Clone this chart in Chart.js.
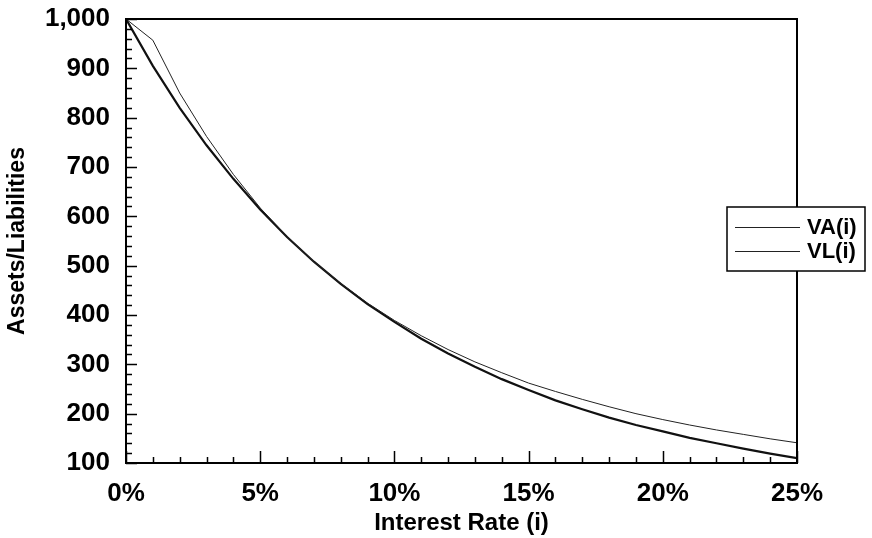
<!DOCTYPE html>
<html>
<head>
<meta charset="utf-8">
<title>Assets vs Liabilities</title>
<script src="https://cdn.jsdelivr.net/npm/chart.js@4.4.1/dist/chart.umd.min.js"></script>
<style>
    html, body { margin: 0; padding: 0; background: #fff; }
    #wrap { position: relative; width: 872px; height: 538px; }
</style>
</head>
<body>
<div id="wrap"><canvas id="chart" width="872" height="538"></canvas></div>
<script>
    // --- Data ---
    const rates = [0, 1, 2, 3, 4, 5, 6, 7, 8, 9, 10, 11, 12, 13, 14, 15, 16, 17, 18, 19, 20, 21, 22, 23, 24, 25];
    const assets = [1000, 957, 850, 762, 685, 617, 559, 508, 464, 424, 389, 358, 330, 305, 283, 262, 245, 229, 214, 200, 188, 177, 167, 158, 149, 141];
    const liabilities = [1000, 905, 820, 744, 676, 614, 558, 508, 463, 422, 386, 352, 322, 295, 270, 248, 227, 209, 192, 177, 164, 151, 140, 129, 119, 110];
    const seriesNames = ['VA(i)', 'VL(i)'];
    const xTickValues = [0, 5, 10, 15, 20, 25];
    const yTickValues = [100, 200, 300, 400, 500, 600, 700, 800, 900, 1000];

    const FONT = "'Liberation Sans', Arial, Helvetica, sans-serif";

    const toPoints = vals => rates.map((r, i) => ({ x: r, y: vals[i] }));

    // frame, inner tick marks (major + minor) and the boxed legend
    const framePlugin = {
        id: 'frameTicks',
        afterDatasetsDraw(chart) {
            const { ctx, chartArea: a, scales } = chart;
            const xs = scales.x, ys = scales.y;
            ctx.save();
            ctx.strokeStyle = '#000';
            ctx.lineWidth = 2;
            ctx.strokeRect(a.left, a.top, a.right - a.left, a.bottom - a.top);

            ctx.lineWidth = 1.5;
            ctx.beginPath();
            for (let v = xs.min; v <= xs.max; v += 1) {
                const px = Math.round(xs.getPixelForValue(v)) + 0.5;
                const len = v % 5 === 0 ? 12 : 6;
                ctx.moveTo(px, a.bottom);
                ctx.lineTo(px, a.bottom - len);
            }
            for (let v = ys.min; v <= ys.max; v += 20) {
                const py = Math.round(ys.getPixelForValue(v)) + 0.5;
                const len = v % 100 === 0 ? 11 : 6;
                ctx.moveTo(a.left, py);
                ctx.lineTo(a.left + len, py);
            }
            ctx.stroke();

            // legend box
            const bx = 727, by = 207, bw = 138, bh = 64;
            ctx.fillStyle = '#fff';
            ctx.fillRect(bx, by, bw, bh);
            ctx.lineWidth = 1.5;
            ctx.strokeRect(bx, by, bw, bh);
            ctx.font = 'bold 22px ' + FONT;
            ctx.textBaseline = 'middle';
            ctx.textAlign = 'left';
            chart.data.datasets.forEach((ds, i) => {
                const ly = by + 20 + i * 24;
                ctx.strokeStyle = '#222';
                ctx.lineWidth = 1;
                ctx.beginPath();
                ctx.moveTo(bx + 8, ly + 0.5);
                ctx.lineTo(bx + 73, ly + 0.5);
                ctx.stroke();
                ctx.fillStyle = '#000';
                ctx.fillText(ds.label, bx + 80, ly + 1);
            });
            ctx.restore();
        }
    };

    new Chart(document.getElementById('chart'), {
        type: 'line',
        data: {
            datasets: [
                {
                    label: seriesNames[0],
                    data: toPoints(assets),
                    borderColor: '#222',
                    borderWidth: 1,
                    pointRadius: 0,
                    tension: 0,
                    fill: false
                },
                {
                    label: seriesNames[1],
                    data: toPoints(liabilities),
                    borderColor: '#111',
                    borderWidth: 2.2,
                    pointRadius: 0,
                    tension: 0,
                    fill: false
                }
            ]
        },
        options: {
            responsive: false,
            animation: false,
            devicePixelRatio: 1,
            layout: { padding: { left: 0, right: 75, top: 19, bottom: 0 } },
            plugins: {
                legend: { display: false },
                tooltip: { enabled: false }
            },
            scales: {
                x: {
                    type: 'linear',
                    min: 0,
                    max: 25,
                    afterFit: s => { s.height = 75; s.paddingLeft = 0; s.paddingRight = 0; },
                    afterBuildTicks: s => { s.ticks = xTickValues.map(v => ({ value: v })); },
                    grid: { display: false, drawTicks: false },
                    border: { display: false },
                    ticks: {
                        padding: 15,
                        color: '#000',
                        font: { family: FONT, size: 26, weight: 'bold' },
                        callback: v => v + '%'
                    },
                    title: {
                        display: true,
                        text: 'Interest Rate (i)',
                        color: '#000',
                        font: { family: FONT, size: 24, weight: 'bold' },
                        padding: { top: 0, bottom: 0 }
                    }
                },
                y: {
                    min: 100,
                    max: 1000,
                    afterFit: s => { s.width = 126; s.paddingTop = 0; s.paddingBottom = 0; },
                    afterBuildTicks: s => { s.ticks = yTickValues.map(v => ({ value: v })); },
                    grid: { display: false, drawTicks: false },
                    border: { display: false },
                    ticks: {
                        padding: 16,
                        color: '#000',
                        font: { family: FONT, size: 26, weight: 'bold' },
                        callback: v => v.toLocaleString('en-US')
                    },
                    title: {
                        display: true,
                        text: 'Assets/Liabilities',
                        color: '#000',
                        font: { family: FONT, size: 23, weight: 'bold' },
                        padding: { top: 4, bottom: 0 }
                    }
                }
            }
        },
        plugins: [framePlugin]
    });
</script>
</body>
</html>
